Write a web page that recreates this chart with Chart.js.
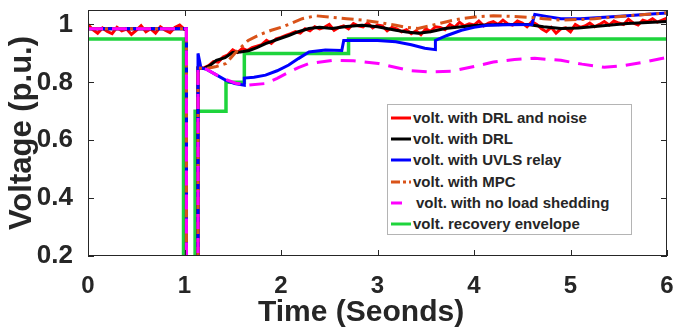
<!DOCTYPE html>
<html>
<head>
<meta charset="utf-8">
<script src="https://cdn.jsdelivr.net/npm/chart.js"></script>
<style>
  html, body { margin: 0; padding: 0; background: #fff; }
  #wrap { position: relative; width: 677px; height: 332px; }
  #legend {
    position: absolute; left: 387px; top: 104px; width: 243px; height: 129px;
    border: 1px solid #b4b4b4; background: #fff;
    font: bold 15px "Liberation Sans", Arial, sans-serif; color: #262626;
  }
  .row { position: absolute; left: 0; height: 20px; line-height: 20px; white-space: nowrap; }
  .row svg { position: absolute; left: 3px; top: 6px; }
  .row span { position: absolute; left: 25px; }
  #xtitle {
    position: absolute; left: 258px; top: 294px; line-height: 36px; white-space: nowrap;
    font: bold 30px "Liberation Sans", Arial, sans-serif; color: #262626;
  }
</style>
</head>
<body>
<div id="wrap">
  <canvas id="c" width="677" height="332"></canvas>
  <div id="legend"></div>
  <div id="xtitle">Time (Seonds)</div>
</div>
<script>
// axis ticks
const xTicks = [0, 1, 2, 3, 4, 5, 6];
const yTicks = [0.2, 0.4, 0.6, 0.8, 1];

// volt. with DRL and noise
const tNoise = [0, 0.05, 0.1, 0.15, 0.2, 0.25, 0.3, 0.35, 0.4, 0.45, 0.5, 0.55, 0.6, 0.65, 0.7, 0.75, 0.8, 0.85, 0.9, 0.95, 1.0,
  1.02, 1.02, 1.14, 1.14,
  1.2, 1.25, 1.3, 1.35, 1.4, 1.45, 1.5, 1.55, 1.6, 1.65,
  1.7, 1.75, 1.8, 1.85, 1.9, 1.95, 2.0, 2.05, 2.1, 2.15,
  2.2, 2.25, 2.3, 2.35, 2.4, 2.45, 2.5, 2.55, 2.6, 2.65,
  2.7, 2.75, 2.8, 2.85, 2.9, 2.95, 3.0, 3.05, 3.1, 3.15,
  3.2, 3.25, 3.3, 3.35, 3.4, 3.45, 3.5, 3.55, 3.6, 3.65,
  3.7, 3.75, 3.8, 3.85, 3.9, 3.95, 4.0, 4.05, 4.1, 4.15,
  4.2, 4.25, 4.3, 4.35, 4.4, 4.45, 4.5, 4.55, 4.6, 4.65,
  4.7, 4.75, 4.8, 4.85, 4.9, 4.95, 5.0, 5.05, 5.1, 5.15,
  5.2, 5.25, 5.3, 5.35, 5.4, 5.45, 5.5, 5.55, 5.6, 5.65,
  5.7, 5.75, 5.8, 5.85, 5.9, 5.95, 6.0];
const vNoise = [1.0, 0.982, 0.97, 0.988, 0.976, 0.968, 0.99, 0.978, 0.984, 0.966, 0.98, 0.996, 0.975, 0.985, 0.97, 0.992, 0.98, 0.972, 0.99, 0.998, 0.983,
  0.983, 0, 0, 0.85,
  0.85, 0.858, 0.872, 0.87, 0.888, 0.895, 0.912, 0.903, 0.918, 0.91,
  0.92, 0.925, 0.93, 0.945, 0.935, 0.95, 0.955, 0.962, 0.968, 0.975,
  0.97, 0.985, 0.978, 0.992, 0.985, 0.99, 1.0, 0.98, 0.99, 0.995,
  0.985, 1.003, 0.995, 0.992, 1.005, 0.988, 0.998, 0.995, 0.978, 0.99,
  0.985, 0.975, 0.982, 0.968, 0.978, 0.965, 0.985, 0.976, 0.992, 0.99,
  0.982, 1.0, 0.99, 1.008, 0.995, 1.002, 0.998, 1.012, 0.995, 1.005,
  1.01, 1.0, 1.015, 1.002, 0.998, 1.012, 1.005, 0.992, 1.01, 1.0,
  0.985, 0.975, 0.99, 0.97, 0.985, 0.988, 0.975, 1.0, 0.99, 0.995,
  1.005, 0.992, 1.0, 1.01, 0.998, 1.012, 1.005, 1.0, 1.018, 1.005,
  0.998, 1.015, 1.01, 1.02, 1.008, 1.015, 1.022];

// volt. with DRL
const tDRL = [0, 1.02, 1.02, 1.14, 1.14, 1.2, 1.27, 1.33, 1.42, 1.5, 1.58, 1.67, 1.75, 1.84, 1.96, 2.08, 2.18, 2.29, 2.4, 2.53,
  2.68, 2.84, 3.0, 3.19, 3.3, 3.42, 3.55, 3.7, 3.87, 4.04, 4.3, 4.56, 4.72, 4.9, 5.08, 5.25, 5.42, 5.59, 5.8, 6.0];
const vDRL = [0.985, 0.985, 0, 0, 0.85, 0.848, 0.86, 0.876, 0.885, 0.903, 0.905, 0.91, 0.92, 0.934, 0.948, 0.962, 0.975, 0.986, 0.99, 0.986,
  0.993, 0.997, 0.992, 0.98, 0.974, 0.97, 0.975, 0.986, 0.992, 0.997, 1.0, 1.0, 0.992, 0.986, 0.988, 0.993, 0.998, 1.003, 1.007, 1.01];

// volt. with UVLS relay
const tUVLS = [0, 1.02, 1.02, 1.14, 1.14, 1.17, 1.23, 1.33, 1.43, 1.52, 1.62, 1.62, 1.72, 1.84, 1.96, 2.08, 2.18, 2.29, 2.46, 2.63, 2.65,
  2.84, 3.0, 3.19, 3.35, 3.49, 3.6, 3.6, 3.72, 3.87, 4.0, 4.14, 4.35, 4.6, 4.63, 4.75, 4.9, 5.1, 5.35, 5.59, 5.8, 6.0];
const vUVLS = [0.985, 0.985, 0, 0, 0.9, 0.85, 0.845, 0.826, 0.807, 0.796, 0.79, 0.815, 0.818, 0.825, 0.84, 0.86, 0.882, 0.905, 0.912, 0.91, 0.945,
  0.945, 0.945, 0.94, 0.93, 0.918, 0.913, 0.945, 0.962, 0.98, 0.99, 0.997, 0.999, 1.0, 1.035, 1.028, 1.02, 1.02, 1.025, 1.03, 1.035, 1.04];

// volt. with MPC
const tMPC = [0, 1.02, 1.02, 1.14, 1.14, 1.23, 1.33, 1.43, 1.52, 1.66, 1.78, 1.9, 2.0, 2.1, 2.22, 2.36, 2.53, 2.68, 2.84, 3.0, 3.19, 3.3, 3.42,
  3.6, 3.75, 3.87, 4.03, 4.2, 4.38, 4.56, 4.72, 4.9, 5.08, 5.25, 5.42, 5.59, 5.8, 6.0];
const vMPC = [0.985, 0.985, 0, 0, 0.85, 0.848, 0.855, 0.865, 0.9, 0.945, 0.965, 0.98, 0.99, 1.003, 1.02, 1.03, 1.025, 1.02, 1.015, 1.008, 0.997, 0.99, 0.986,
  1.0, 1.012, 1.02, 1.027, 1.03, 1.028, 1.025, 1.02, 1.015, 1.017, 1.02, 1.025, 1.03, 1.035, 1.04];

// volt. with no load shedding
const tNoShed = [0, 1.02, 1.02, 1.14, 1.14, 1.23, 1.33, 1.43, 1.53, 1.65, 1.84, 1.96, 2.08, 2.18, 2.29, 2.53, 2.75, 3.01, 3.18, 3.35, 3.55, 3.76,
  4.0, 4.2, 4.42, 4.63, 4.9, 5.12, 5.35, 5.55, 5.76, 6.0];
const vNoShed = [0.985, 0.985, 0, 0, 0.85, 0.845, 0.826, 0.81, 0.797, 0.79, 0.796, 0.814, 0.835, 0.851, 0.865, 0.876, 0.875, 0.865, 0.852, 0.84, 0.836, 0.838,
  0.855, 0.87, 0.879, 0.883, 0.876, 0.863, 0.852, 0.858, 0.87, 0.886];

// volt. recovery envelope
const tEnv = [0, 0.99, 0.99, 1.11, 1.11, 1.43, 1.43, 1.62, 1.62, 2.7, 2.7, 6.0];
const vEnv = [0.95, 0.95, 0, 0, 0.7, 0.7, 0.8, 0.8, 0.9, 0.9, 0.95, 0.95];

const labels = ['volt. with DRL and noise', 'volt. with DRL', 'volt. with UVLS relay',
  'volt. with MPC', 'volt. with no load shedding', 'volt. recovery envelope'];

const pts = (t, v) => t.map((x, i) => ({ x: x, y: v[i] }));
const FONT = '"Liberation Sans", Arial, sans-serif';
const INK = '#262626';

const series = [
  { data: pts(tNoise, vNoise), color: '#ff0000', dash: [], width: 3, order: 5 },
  { data: pts(tDRL, vDRL), color: '#000000', dash: [], width: 3, order: 4 },
  { data: pts(tUVLS, vUVLS), color: '#0000ff', dash: [], width: 3, order: 3 },
  { data: pts(tMPC, vMPC), color: '#d95319', dash: [12, 5, 3, 5], width: 3, order: 2 },
  { data: pts(tNoShed, vNoShed), color: '#ff00ff', dash: [15, 9], width: 3, order: 1 },
  { data: pts(tEnv, vEnv), color: '#1ed43c', dash: [], width: 3.5, order: 6 }
];

// box and inward tick marks, MATLAB style
const boxPlugin = {
  id: 'box',
  afterDraw(chart) {
    const { ctx, chartArea: a, scales } = chart;
    ctx.save();
    ctx.strokeStyle = INK;
    ctx.lineWidth = 1;
    ctx.strokeRect(a.left + 0.5, a.top + 0.5, a.right - a.left - 1, a.bottom - a.top - 1);
    ctx.beginPath();
    xTicks.forEach(v => {
      const px = Math.round(scales.x.getPixelForValue(v)) + 0.5;
      ctx.moveTo(px, a.bottom); ctx.lineTo(px, a.bottom - 6);
      ctx.moveTo(px, a.top); ctx.lineTo(px, a.top + 6);
    });
    yTicks.forEach(v => {
      const py = Math.round(scales.y.getPixelForValue(v)) + 0.5;
      ctx.moveTo(a.left, py); ctx.lineTo(a.left + 6, py);
      ctx.moveTo(a.right, py); ctx.lineTo(a.right - 6, py);
    });
    ctx.stroke();
    ctx.restore();
  }
};

new Chart(document.getElementById('c'), {
  type: 'line',
  data: {
    datasets: series.map((s, i) => ({
      label: labels[i],
      data: s.data,
      borderColor: s.color,
      borderWidth: s.width,
      borderDash: s.dash,
      pointRadius: 0,
      tension: 0,
      fill: false,
      order: s.order
    }))
  },
  options: {
    responsive: false,
    animation: false,
    devicePixelRatio: 1,
    layout: { padding: { top: 10, right: 10, left: 0, bottom: 0 } },
    plugins: { legend: { display: false }, tooltip: { enabled: false } },
    scales: {
      x: {
        type: 'linear', min: 0, max: 6,
        afterBuildTicks: s => { s.ticks = xTicks.map(v => ({ value: v })); },
        afterFit: s => { s.height = 76; s.paddingLeft = 0; s.paddingRight = 0; },
        grid: { display: false }, border: { display: false },
        ticks: { font: { family: FONT, size: 24, weight: 'bold' }, color: INK, padding: 8, maxRotation: 0 },
        title: { display: false }
      },
      y: {
        min: 0.2, max: 1.05,
        afterBuildTicks: s => { s.ticks = yTicks.map(v => ({ value: v })); },
        afterFit: s => { s.width = 88; s.paddingTop = 0; s.paddingBottom = 0; },
        grid: { display: false }, border: { display: false },
        ticks: { font: { family: FONT, size: 26, weight: 'bold' }, color: INK, padding: 7,
          callback: v => String(+(+v).toFixed(1)) },
        title: { display: true, text: 'Voltage (p.u.)', color: INK,
          font: { family: FONT, size: 31, weight: 'bold' }, padding: { top: 4, bottom: 0 } }
      }
    }
  },
  plugins: [boxPlugin]
});

// legend inside the axes
const legendDash = [[], [], [], [9, 3, 3, 3], [11, 30], []];
const legendEl = document.getElementById('legend');
series.forEach((s, i) => {
  const row = document.createElement('div');
  row.className = 'row';
  row.style.top = (3 + i * 21.2) + 'px';
  row.innerHTML = '<svg width="20" height="8"><line x1="0" y1="4" x2="20" y2="4" stroke="' + s.color +
    '" stroke-width="3" stroke-dasharray="' + (legendDash[i].join(' ') || 'none') + '"/></svg><span>' + labels[i] + '</span>';
  if (i === 4) row.querySelector('span').style.left = '28px';
  legendEl.appendChild(row);
});
</script>
</body>
</html>
